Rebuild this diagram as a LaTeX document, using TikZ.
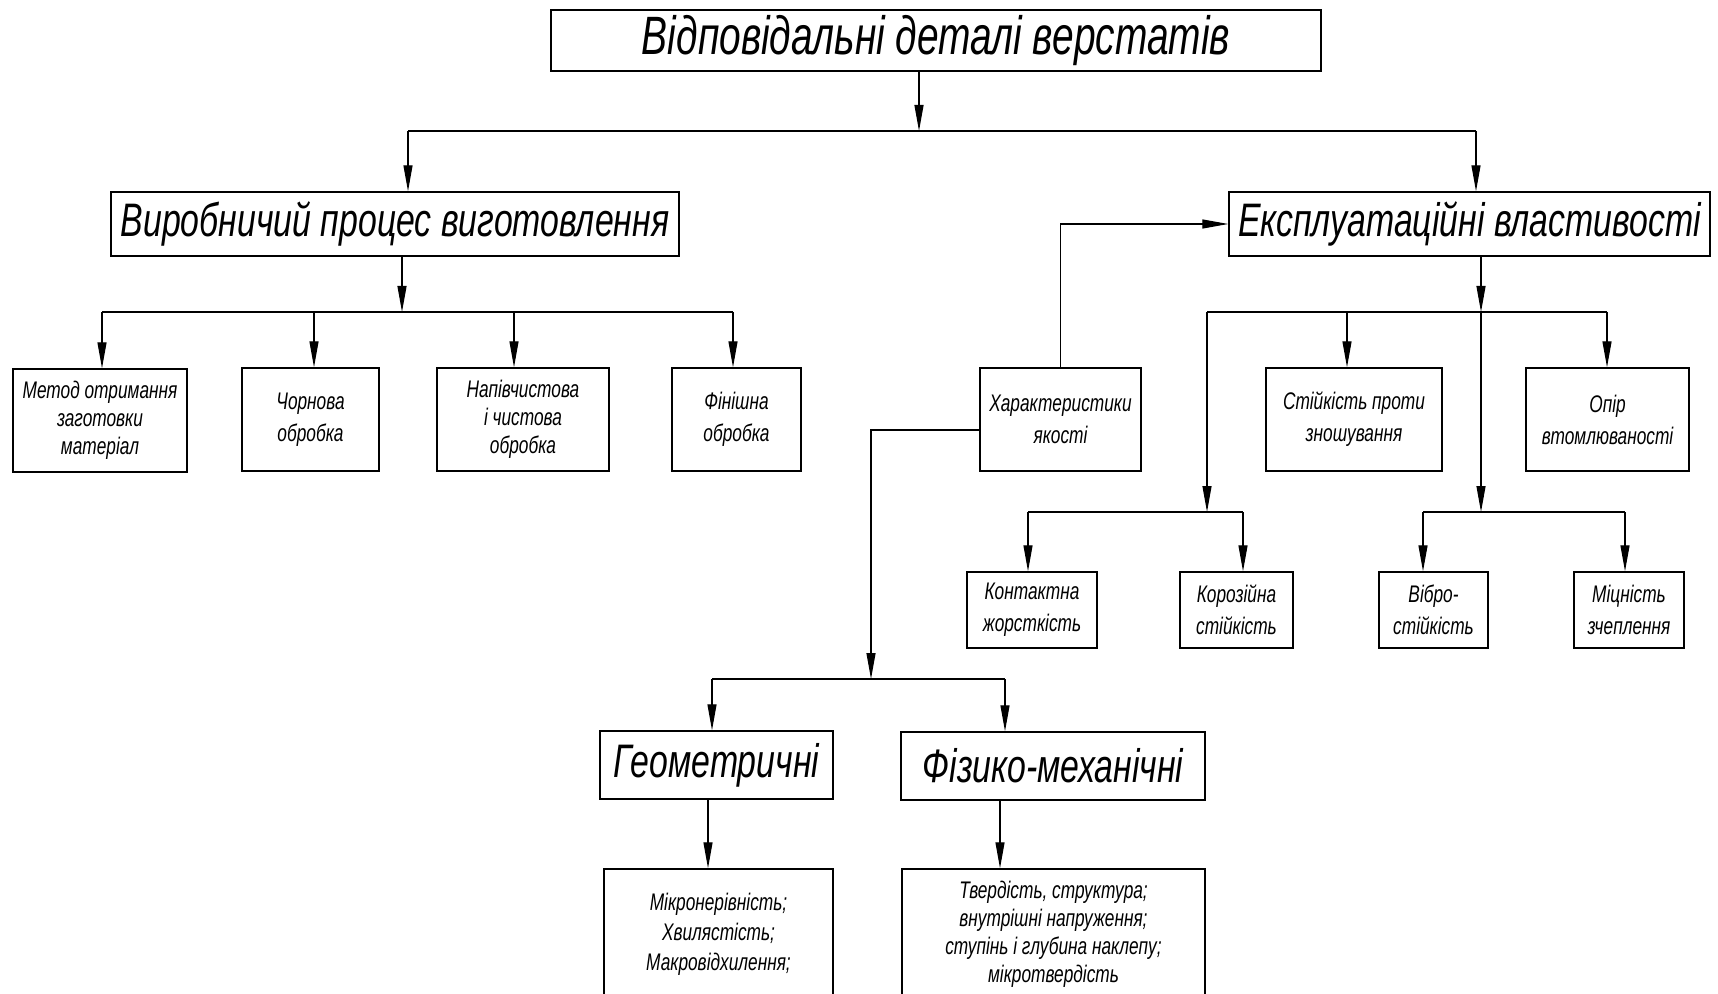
\documentclass[tikz,border=0pt]{standalone}
\usepackage{fontspec}
\newfontfamily\gost[FakeStretch=0.72]{Liberation Sans}
\usetikzlibrary{arrows.meta}
\tikzset{
  box/.style={draw=black, line width=0.7pt, inner sep=1pt, align=center, fill=white},
  small/.style={box, font=\gost\itshape\fontsize{12}{14}\selectfont},
  smallw/.style={box, font=\gost\itshape\fontsize{12}{16}\selectfont},
  head/.style={box, font=\gost\itshape\fontsize{23.5}{28}\selectfont},
  title/.style={box, font=\gost\itshape\fontsize{27}{30}\selectfont},
  conn/.style={line width=0.6pt},
  arr/.style={conn, -{Triangle[length=13pt,width=4.5pt]}},
}
\begin{document}
\begin{tikzpicture}[x=0.5pt,y=-0.5pt]
\useasboundingbox (0,0) rectangle (1718,994);
\clip (0,0) rectangle (1718,994);
\fill[white] (0,0) rectangle (1718,994);

% nodes
\node[title, minimum width=385pt, minimum height=30.5pt] (top) at (936,40.5) {Відповідальні деталі верстатів};
\node[head, minimum width=284pt, minimum height=32pt] (proc) at (395,224) {Виробничий процес виготовлення};
\node[head, minimum width=240.5pt, minimum height=32pt] (expl) at (1469.5,224) {Експлуатаційні властивості};

\node[small, minimum width=87pt, minimum height=51.5pt] (m1) at (100,420.5) {Метод отримання\\заготовки\\матеріал};
\node[smallw, minimum width=68.5pt, minimum height=51.5pt] (m2) at (310.5,419.5) {Чорнова\\обробка};
\node[small, minimum width=86pt, minimum height=51.5pt] (m3) at (523,419.5) {Напівчистова\\і чистова\\обробка};
\node[smallw, minimum width=64.5pt, minimum height=51.5pt] (m4) at (736.5,419.5) {Фінішна\\обробка};

\node[smallw, minimum width=80.5pt, minimum height=51.5pt] (char) at (1060.5,419.5) {Характеристики\\якості};
\node[smallw, minimum width=88pt, minimum height=51.5pt] (wear) at (1354,419.5) {Стійкість проти\\зношування};
\node[smallw, minimum width=81.5pt, minimum height=51.5pt] (fat) at (1607.5,419.5) {Опір\\втомлюваності};

\node[smallw, minimum width=65pt, minimum height=38pt] (cont) at (1032,610) {Контактна\\жорсткість};
\node[smallw, minimum width=56.5pt, minimum height=38pt] (corr) at (1236.5,610) {Корозійна\\стійкість};
\node[smallw, minimum width=54.5pt, minimum height=38pt] (vib) at (1433.5,610) {Вібро-\\стійкість};
\node[smallw, minimum width=55pt, minimum height=38pt] (adh) at (1629,610) {Міцність\\зчеплення};

\node[head, minimum width=116.5pt, minimum height=34pt] (geom) at (716.5,765) {Геометричні};
\node[head, minimum width=152pt, minimum height=34pt] (phys) at (1053,766) {Фізико-механічні};

\node[box, font=\gost\itshape\fontsize{12}{15}\selectfont, minimum width=114.5pt, minimum height=65.5pt] (glist) at (718.5,934.5) {Мікронерівність;\\Хвилястість;\\Макровідхилення;};
\node[small, minimum width=151.5pt, minimum height=65.5pt] (plist) at (1053.5,934.5) {Твердість, структура;\\внутрішні напруження;\\ступінь і глубина наклепу;\\мікротвердість};

% top level
\coordinate (t1) at (919,131);
\coordinate (tL) at (408,131);
\coordinate (tR) at (1476,131);
\draw[arr] (t1 |- top.south) -- (t1);
\draw[conn] (tL) -- (tR);
\draw[arr] (tL) -- (tL |- proc.north);
\draw[arr] (tR) -- (tR |- expl.north);

% left bus
\coordinate (l0) at (402,312);
\coordinate (lA) at (102,312);
\coordinate (lB) at (314,312);
\coordinate (lC) at (514,312);
\coordinate (lD) at (733,312);
\draw[arr] (l0 |- proc.south) -- (l0);
\draw[conn] (lA) -- (lD);
\draw[arr] (lA) -- (lA |- m1.north);
\draw[arr] (lB) -- (lB |- m2.north);
\draw[arr] (lC) -- (lC |- m3.north);
\draw[arr] (lD) -- (lD |- m4.north);

% right bus
\coordinate (r0) at (1481,312);
\coordinate (r1) at (1481,512);
\coordinate (rA) at (1207,312);
\coordinate (rA2) at (1207,512);
\coordinate (rB) at (1347,312);
\coordinate (rC) at (1607,312);
\draw[arr] (r0 |- expl.south) -- (r0);
\draw[arr] (r0) -- (r1);
\draw[conn] (rA) -- (rC);
\draw[arr] (rA) -- (rA2);
\draw[arr] (rB) -- (rB |- wear.north);
\draw[arr] (rC) -- (rC |- fat.north);

% lower right buses
\coordinate (s1) at (1028,512);
\coordinate (s2) at (1243,512);
\coordinate (s3) at (1423,512);
\coordinate (s4) at (1625,512);
\draw[conn] (s1) -- (s2);
\draw[arr] (s1) -- (s1 |- cont.north);
\draw[arr] (s2) -- (s2 |- corr.north);
\draw[conn] (s3) -- (s4);
\draw[arr] (s3) -- (s3 |- vib.north);
\draw[arr] (s4) -- (s4 |- adh.north);

% characteristics
\draw[arr] (char.north) -- (char.north |- expl.west) -- (expl.west);
\coordinate (c1) at (871,430);
\coordinate (c2) at (871,679);
\draw[arr] (c1 -| char.west) -- (c1) -- (c2);
\coordinate (g1) at (712,679);
\coordinate (g2) at (1005,679);
\draw[conn] (g1) -- (g2);
\draw[arr] (g1) -- (g1 |- geom.north);
\draw[arr] (g2) -- (g2 |- phys.north);

\coordinate (h1) at (708,0);
\coordinate (h2) at (1000,0);
\draw[arr] (h1 |- geom.south) -- (h1 |- glist.north);
\draw[arr] (h2 |- phys.south) -- (h2 |- plist.north);
\end{tikzpicture}
\end{document}
